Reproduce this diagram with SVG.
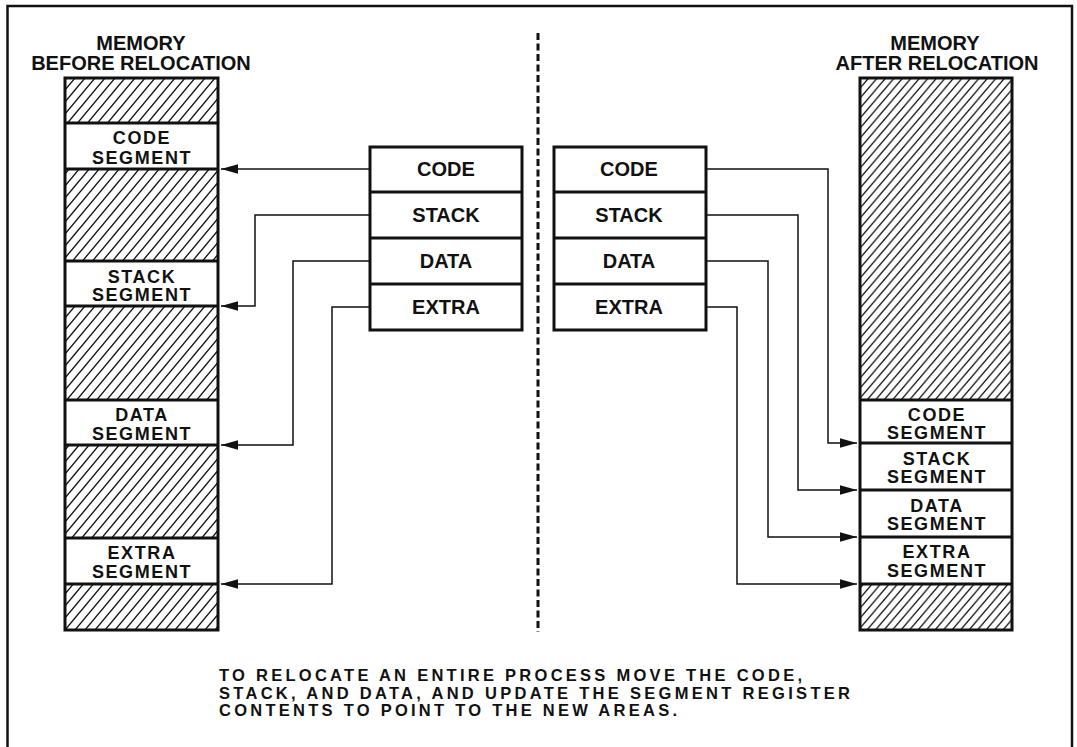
<svg xmlns="http://www.w3.org/2000/svg" width="1077" height="747" viewBox="0 0 1077 747">
<style>
text{font-family:"Liberation Sans",Arial,sans-serif;font-weight:bold;fill:#111;}
.title{font-size:20px;text-anchor:middle;}
.seg{font-size:18px;letter-spacing:1.6px;text-anchor:middle;}
.reg{font-size:20px;text-anchor:middle;}
.cap{font-size:16.5px;}
.box{fill:none;stroke:#111;stroke-width:3;}
.div{stroke:#111;stroke-width:3;}
.hatchL{fill:url(#hatchL);stroke:none;}
.hatchR{fill:url(#hatchR);stroke:none;}
.conn path{fill:none;stroke:#111;stroke-width:1.5;marker-end:url(#arrow);}
</style>
<defs>
<pattern id="hatchL" patternUnits="userSpaceOnUse" width="10" height="12">
<path d="M-1,13.2 L11,-1.2 M-11,13.2 L1,-1.2 M9,13.2 L21,-1.2" stroke="#111" stroke-width="1.4" fill="none"/>
</pattern>
<pattern id="hatchR" patternUnits="userSpaceOnUse" width="8.5" height="10">
<path d="M-0.85,11 L9.35,-1 M-9.35,11 L0.85,-1 M7.65,11 L17.85,-1" stroke="#111" stroke-width="1.3" fill="none"/>
</pattern>
<marker id="arrow" markerUnits="userSpaceOnUse" markerWidth="18" markerHeight="10" refX="17" refY="4.75" orient="auto">
<path d="M0,0 L17,4.75 L0,9.5 Z" fill="#111"/>
</marker>
</defs>
<rect x="0" y="0" width="1077" height="747" fill="#fff"/>
<rect x="7.5" y="6" width="1064.5" height="760" fill="none" stroke="#111" stroke-width="2.5"/>

<line x1="538" y1="33" x2="538" y2="632" stroke="#111" stroke-width="3" stroke-dasharray="7 3.5"/>

<g id="memory-before">
<text class="title" x="141" y="50">MEMORY</text>
<text class="title" x="141" y="70">BEFORE RELOCATION</text>
<rect class="hatchL" x="65" y="78" width="153" height="45"/>
<rect class="hatchL" x="65" y="169" width="153" height="92"/>
<rect class="hatchL" x="65" y="306" width="153" height="94"/>
<rect class="hatchL" x="65" y="445" width="153" height="93"/>
<rect class="hatchL" x="65" y="584" width="153" height="46"/>
<rect class="box" x="65" y="78" width="153" height="552"/>
<line class="div" x1="65" y1="123" x2="218" y2="123"/>
<line class="div" x1="65" y1="169" x2="218" y2="169"/>
<line class="div" x1="65" y1="261" x2="218" y2="261"/>
<line class="div" x1="65" y1="306" x2="218" y2="306"/>
<line class="div" x1="65" y1="400" x2="218" y2="400"/>
<line class="div" x1="65" y1="445" x2="218" y2="445"/>
<line class="div" x1="65" y1="538" x2="218" y2="538"/>
<line class="div" x1="65" y1="584" x2="218" y2="584"/>
<text class="seg" x="142" y="144">CODE</text>
<text class="seg" x="142" y="164">SEGMENT</text>
<text class="seg" x="142" y="283">STACK</text>
<text class="seg" x="142" y="301">SEGMENT</text>
<text class="seg" x="142" y="421">DATA</text>
<text class="seg" x="142" y="440">SEGMENT</text>
<text class="seg" x="142" y="559">EXTRA</text>
<text class="seg" x="142" y="578">SEGMENT</text>
</g>

<g id="registers-before">
<rect class="box" x="370" y="147" width="152" height="183"/>
<line class="div" x1="370" y1="192" x2="522" y2="192"/>
<line class="div" x1="370" y1="238" x2="522" y2="238"/>
<line class="div" x1="370" y1="284" x2="522" y2="284"/>
<text class="reg" x="446" y="176">CODE</text>
<text class="reg" x="446" y="222">STACK</text>
<text class="reg" x="446" y="268">DATA</text>
<text class="reg" x="446" y="314">EXTRA</text>
</g>

<g id="registers-after">
<rect class="box" x="554" y="147" width="152" height="183"/>
<line class="div" x1="554" y1="192" x2="706" y2="192"/>
<line class="div" x1="554" y1="238" x2="706" y2="238"/>
<line class="div" x1="554" y1="284" x2="706" y2="284"/>
<text class="reg" x="629" y="176">CODE</text>
<text class="reg" x="629" y="222">STACK</text>
<text class="reg" x="629" y="268">DATA</text>
<text class="reg" x="629" y="314">EXTRA</text>
</g>

<g id="memory-after">
<text class="title" x="935" y="50">MEMORY</text>
<text class="title" x="937" y="70">AFTER RELOCATION</text>
<rect class="hatchR" x="860" y="78" width="152" height="322"/>
<rect class="hatchR" x="860" y="584" width="152" height="46"/>
<rect class="box" x="860" y="78" width="152" height="552"/>
<line class="div" x1="860" y1="400" x2="1012" y2="400"/>
<line class="div" x1="860" y1="443" x2="1012" y2="443"/>
<line class="div" x1="860" y1="490" x2="1012" y2="490"/>
<line class="div" x1="860" y1="537" x2="1012" y2="537"/>
<line class="div" x1="860" y1="584" x2="1012" y2="584"/>
<text class="seg" x="937" y="421">CODE</text>
<text class="seg" x="937" y="439">SEGMENT</text>
<text class="seg" x="937" y="465">STACK</text>
<text class="seg" x="937" y="483">SEGMENT</text>
<text class="seg" x="937" y="512">DATA</text>
<text class="seg" x="937" y="530">SEGMENT</text>
<text class="seg" x="937" y="558">EXTRA</text>
<text class="seg" x="937" y="577">SEGMENT</text>
</g>

<g id="connectors" class="conn">
<path d="M369,169 H221"/>
<path d="M369,215 H255 V306 H221"/>
<path d="M369,261 H293 V445 H221"/>
<path d="M369,307 H332 V584 H221"/>
<path d="M707,169 H828 V443 H857"/>
<path d="M707,215 H798 V490 H857"/>
<path d="M707,261 H768 V537 H857"/>
<path d="M707,307 H737 V584 H857"/>
</g>

<g id="caption">
<text class="cap" x="219" y="681" textLength="583" lengthAdjust="spacing">TO RELOCATE AN ENTIRE PROCESS MOVE THE CODE,</text>
<text class="cap" x="219" y="698.5" textLength="631" lengthAdjust="spacing">STACK, AND DATA, AND UPDATE THE SEGMENT REGISTER</text>
<text class="cap" x="219" y="716" textLength="458" lengthAdjust="spacing">CONTENTS TO POINT TO THE NEW AREAS.</text>
</g>
</svg>
